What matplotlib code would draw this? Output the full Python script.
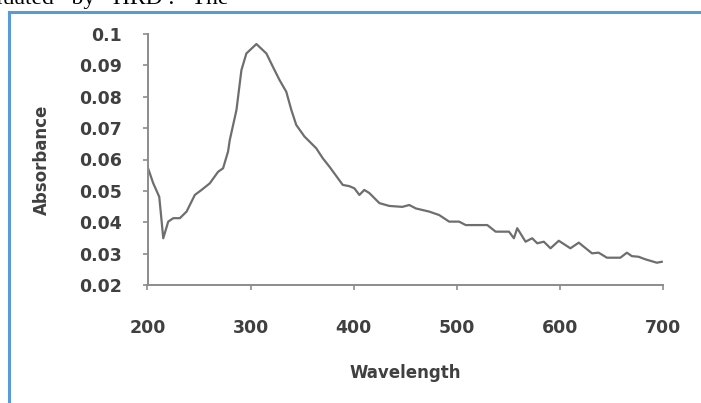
import matplotlib
matplotlib.use("Agg")
import matplotlib.pyplot as plt
from matplotlib.lines import Line2D

# ── Spectrum ──────────────────────────────────────────────────────────────────
wavelength = [200, 205.6, 211.4, 215.3, 220.1, 225, 231.4, 237.9, 245.9, 252.4,
              260.4, 268.5, 273.3, 278.1, 279.8, 286.3, 291.1, 295.9, 305.6, 315.3,
              321.7, 328.1, 334.6, 339.5, 344.3, 352.3, 363.6, 370, 376.5, 389.4,
              395.8, 400.7, 405.5, 410.3, 415.2, 424.9, 434.5, 447.1, 453.9, 460.3,
              473.2, 482.9, 492.6, 502.2, 508.7, 529.6, 537.7, 550.6, 555.4, 558.6,
              566.7, 573.1, 578, 584.4, 590.9, 598.9, 610.2, 618.3, 631.1, 637.6,
              645.6, 658.6, 665, 669.8, 676.3, 682.8, 694, 698.8]
absorbance = [0.0577, 0.0524, 0.0481, 0.0349, 0.0402, 0.0413, 0.0413, 0.0434, 0.0487, 0.0503,
              0.0524, 0.0561, 0.0572, 0.0625, 0.0662, 0.0758, 0.0885, 0.0938, 0.0968, 0.0938,
              0.0895, 0.0853, 0.0816, 0.0758, 0.0710, 0.0673, 0.0636, 0.0604, 0.0577, 0.0519,
              0.0515, 0.0508, 0.0487, 0.0503, 0.0493, 0.0461, 0.0452, 0.0449, 0.0455, 0.0444,
              0.0434, 0.0423, 0.0402, 0.0402, 0.0391, 0.0391, 0.0370, 0.0370, 0.0349, 0.0381,
              0.0338, 0.0349, 0.0333, 0.0338, 0.0317, 0.0341, 0.0317, 0.0335, 0.0301, 0.0303,
              0.0287, 0.0287, 0.0303, 0.0292, 0.0290, 0.0282, 0.0271, 0.0274]

x_ticks = [200, 300, 400, 500, 600, 700]
y_ticks = [0.02, 0.03, 0.04, 0.05, 0.06, 0.07, 0.08, 0.09, 0.1]
y_ticklabels = ["0.02", "0.03", "0.04", "0.05", "0.06", "0.07", "0.08", "0.09", "0.1"]

AXIS_GREY = "#8c8c8c"
TEXT_GREY = "#404040"
FONT = "DejaVu Sans"

fig = plt.figure(figsize=(7.01, 4.03), dpi=100)
ax = fig.add_axes([147.5 / 701, 1 - 285 / 403, 515.5 / 701, 251 / 403])

ax.plot(wavelength, absorbance, color="#6e6e6e", linewidth=1.6, solid_joinstyle="round")

ax.set_xlim(200, 700)
ax.set_ylim(0.02, 0.1)
ax.set_xticks(x_ticks)
ax.set_yticks(y_ticks)
ax.set_yticklabels(y_ticklabels)

for side in ("top", "right"):
    ax.spines[side].set_visible(False)
for side in ("left", "bottom"):
    ax.spines[side].set_color(AXIS_GREY)
    ax.spines[side].set_linewidth(1.4)

ax.tick_params(direction="out", length=3.6, width=1.2, color=AXIS_GREY,
               labelcolor=TEXT_GREY, labelsize=12.5)
ax.tick_params(axis="x", pad=21)
ax.tick_params(axis="y", pad=15)
for lab in ax.get_xticklabels() + ax.get_yticklabels():
    lab.set_fontweight("bold")
    lab.set_family(FONT)

ax.set_xlabel("Wavelength", fontsize=12, fontweight="bold", color=TEXT_GREY,
              family=FONT, labelpad=19)
ax.set_ylabel("Absorbance", fontsize=12, fontweight="bold", color=TEXT_GREY,
              family=FONT, labelpad=20)

# blue frame of the embedded chart (left and top edges)
frame_kw = dict(color="#5b9bd5", linewidth=2.2, transform=fig.transFigure)
fig.add_artist(Line2D([9 / 701, 9 / 701], [0, 1 - 12 / 403], **frame_kw))
fig.add_artist(Line2D([9 / 701, 1], [1 - 12 / 403, 1 - 12 / 403], **frame_kw))

# page text cut off above the figure
fig.text(-0.005, 1 - 4 / 403, "luated   by   HRD .   The", family="Liberation Serif",
         fontsize=17, color="black", va="baseline", ha="left")

fig.savefig("out.png", dpi=100)
